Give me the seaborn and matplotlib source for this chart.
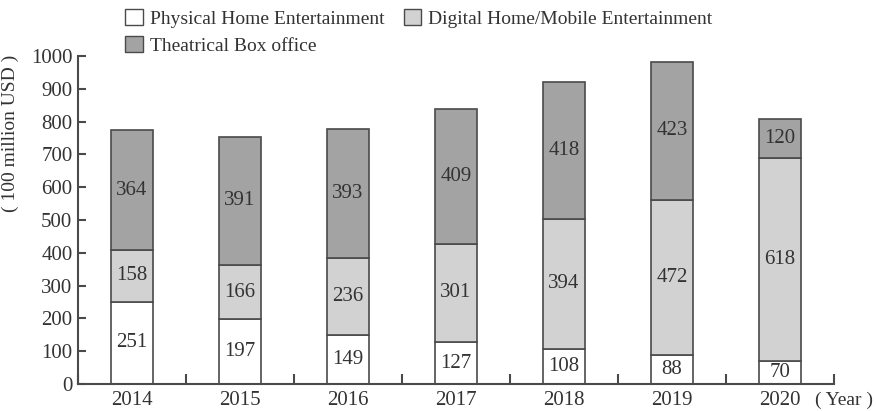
import matplotlib
matplotlib.use("Agg")
import matplotlib.pyplot as plt
import seaborn as sns
import pandas as pd
from matplotlib.patches import Patch

years = ["2014", "2015", "2016", "2017", "2018", "2019", "2020"]
physical = [251, 197, 149, 127, 108, 88, 70]
digital = [158, 166, 236, 301, 394, 472, 618]
theatrical = [364, 391, 393, 409, 418, 423, 120]

series_names = ["Physical Home Entertainment",
                "Digital Home/Mobile Entertainment",
                "Theatrical Box office"]
colors = ["#ffffff", "#d2d2d2", "#a3a3a3"]
edge = "#4a4a4a"
text_color = "#333333"

sns.set_theme(style="ticks")
plt.rcParams["font.family"] = ["Liberation Serif", "DejaVu Serif"]

df = pd.DataFrame({"year": years, "physical": physical,
                   "digital": digital, "theatrical": theatrical})

fig = plt.figure(figsize=(8.76, 4.11), dpi=100)
ax = fig.add_axes([0.089, 0.0657, 0.863, 0.798])

bottoms = [0] * len(years)
for col, color in zip(["physical", "digital", "theatrical"], colors):
    sns.barplot(data=df, x="year", y=col, bottom=bottoms, color=color,
                edgecolor=edge, linewidth=1.2, width=0.39, ax=ax,
                saturation=1)
    for i, v in enumerate(df[col]):
        ax.text(i, bottoms[i] + v / 2, str(v), ha="center", va="center",
                fontsize=15, color=text_color)
    bottoms = [b + v for b, v in zip(bottoms, df[col])]

ax.set_xlim(-0.5, len(years) - 0.5)
ax.set_ylim(0, 1000)
ax.set_yticks(range(0, 1001, 100))
ax.set_xlabel("")
ax.set_ylabel("( 100 million USD )", fontsize=14, color=text_color)
ax.yaxis.set_label_coords(-0.078, 0.765)

ax.set_xticks([i - 0.5 for i in range(len(years) + 1)], minor=True)
ax.tick_params(axis="x", which="major", length=0, labelsize=15,
               labelcolor=text_color, pad=5)
ax.tick_params(axis="x", which="minor", direction="in", length=7,
               width=1.5, color=edge)
ax.tick_params(axis="y", direction="in", length=6, width=1.5, color=edge,
               labelsize=15, labelcolor=text_color, pad=4)

sns.despine(ax=ax)
for s in ["left", "bottom"]:
    ax.spines[s].set_color(edge)
    ax.spines[s].set_linewidth(1.5)

fig.text(0.963, 0.027, "( Year )", ha="center", va="center",
         fontsize=14, color=text_color)

handles = [Patch(facecolor=c, edgecolor=edge, linewidth=1.0) for c in colors]
order = [0, 2, 1]
fig.legend([handles[i] for i in order], [series_names[i] for i in order],
           ncol=2, frameon=False, loc="upper left",
           bbox_to_anchor=(0.123, 1.02), fontsize=14, labelcolor=text_color,
           handlelength=0.9, handleheight=0.9, handletextpad=0.35,
           columnspacing=1.0, labelspacing=0.4)

fig.savefig("out.png", dpi=100)
